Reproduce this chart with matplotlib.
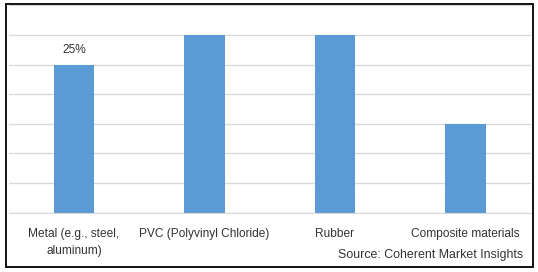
import matplotlib.pyplot as plt
from matplotlib.patches import Rectangle

categories = ["Metal (e.g., steel,\naluminum)", "PVC (Polyvinyl Chloride)", "Rubber", "Composite materials"]
shares = [25, 30, 30, 15]
bar_labels = ["25%", "", "", ""]
y_ticks = [0, 5, 10, 15, 20, 25, 30, 35]

bar_color = "#5B9BD5"
grid_color = "#D9D9D9"
text_color = "#333333"

plt.rcParams["font.family"] = ["Liberation Sans", "DejaVu Sans"]

fig = plt.figure(figsize=(5.38, 2.72), dpi=100)
# plot area in figure pixels: x 8.75..530.75, y (from top) 5.3..212.5
W, H = 538, 272
ax = fig.add_axes([8.75 / W, 1 - 212.5 / H, 522 / W, (212.5 - 5.3) / H])

x = range(len(categories))
bars = ax.bar(x, shares, width=0.307, color=bar_color, zorder=2)
for rect, lab in zip(bars, bar_labels):
    if lab:
        ax.text(rect.get_x() + rect.get_width() / 2, rect.get_height() + 2.4, lab,
                ha="center", va="center", fontsize=8.6, color=text_color)

ax.set_xlim(-0.5, len(categories) - 0.5)
ax.set_ylim(0, 35)
ax.set_yticks(y_ticks)
ax.yaxis.grid(True, color=grid_color, linewidth=1.0, zorder=0)
ax.tick_params(axis="y", left=False, labelleft=False)
ax.tick_params(axis="x", bottom=False, labelsize=8.6, labelcolor=text_color, pad=8)
ax.set_xticks(list(x))
ax.set_xticklabels(categories, linespacing=1.5)
for s in ["top", "left", "right"]:
    ax.spines[s].set_visible(False)
ax.spines["bottom"].set_color(grid_color)

fig.text(523 / W, 1 - 255 / H, "Source: Coherent Market Insights", ha="right", va="center",
         fontsize=8.9, color=text_color)

# outer frame
fig.patches.append(Rectangle((6 / W, 1 - 267 / H), 527 / W, 263 / H, transform=fig.transFigure,
                             fill=False, edgecolor="black", linewidth=1.3))

fig.savefig("out.png", dpi=100)
